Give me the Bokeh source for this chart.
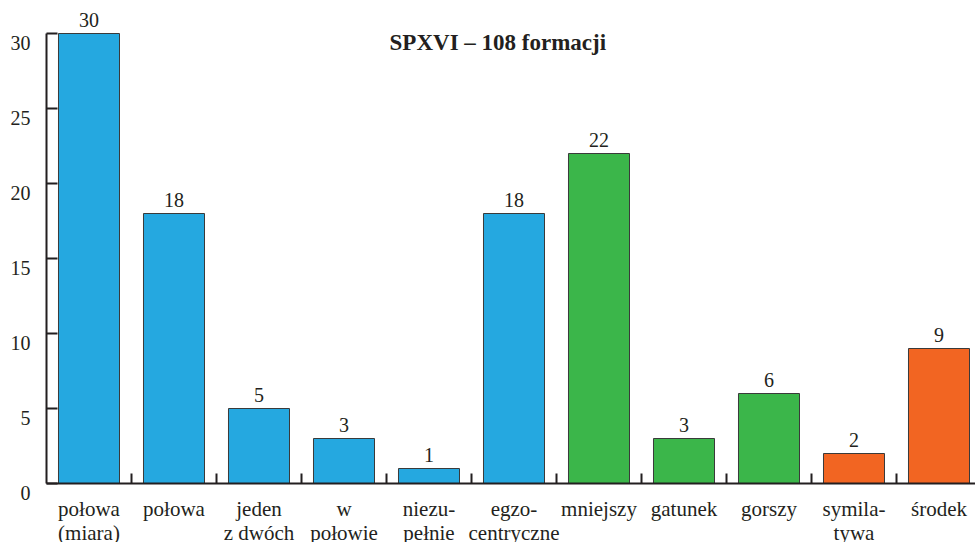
from bokeh.plotting import figure
from bokeh.models import (ColumnDataSource, Range1d, FixedTicker, Label,
                          LinearAxis)
from bokeh.core.properties import value
from bokeh.embed import file_html
from bokeh.resources import INLINE

# ---- data ----
title_text = "SPXVI – 108 formacji"
categories = ["połowa\n(miara)", "połowa", "jeden\nz dwóch", "w\npołowie",
              "niezu-\npełnie", "egzo-\ncentryczne", "mniejszy", "gatunek",
              "gorszy", "symila-\ntywa", "środek"]
values = [30, 18, 5, 3, 1, 18, 22, 3, 6, 2, 9]
groups = ["a", "a", "a", "a", "a", "a", "b", "b", "b", "c", "c"]
group_colors = {"a": "#25A8E0", "b": "#3BB64A", "c": "#F26522"}
y_ticks = [0, 5, 10, 15, 20, 25, 30]

FONT = "'Liberation Serif', serif"
DARK = "#231F20"

W, H = 975, 542
LEFT, BOTTOM = 46, 59          # pixels reserved for the tick labels
PX_X, PX_Y = 85, 15            # pixels per category / per unit

n = len(categories)
xs = [i + 0.5 for i in range(n)]
lines = [c.split("\n") + [""] for c in categories]
src = ColumnDataSource(dict(
    x=xs, top=values, zero=[0] * n, color=[group_colors[g] for g in groups],
    label=[str(v) for v in values],
    line1=[l[0] for l in lines], line2=[l[1] for l in lines],
))
ysrc = ColumnDataSource(dict(y=y_ticks, x=[0] * len(y_ticks),
                             label=[str(t) for t in y_ticks]))

x_end = (W - LEFT) / PX_X
p = figure(width=W, height=H, output_backend="svg", toolbar_location=None,
           x_axis_location=None, y_axis_location=None, min_border=0,
           x_range=Range1d(-LEFT / PX_X, x_end),
           y_range=Range1d(-BOTTOM / PX_Y, (H - BOTTOM) / PX_Y))
p.outline_line_color = None
p.grid.visible = False
p.background_fill_color = "white"
p.border_fill_color = "white"

p.vbar(x="x", top="top", bottom=0, width=0.718, source=src,
       fill_color="color", line_color="#3a3a3a", line_width=1)

# value labels above bars
p.text(x="x", y="top", text="label", source=src, text_align="center",
       text_baseline="middle", y_offset=-14, text_font=value(FONT),
       text_font_size="20px", text_color=DARK)

# category labels under the axis (two lines)
for col, off in (("line1", 13), ("line2", 37)):
    p.text(x="x", y="zero", text=col, source=src, text_align="center",
           text_baseline="top", y_offset=off, text_font=value(FONT),
           text_font_size="21px", text_color=DARK)

# y tick labels, slightly below each tick as in the original
p.text(x="x", y="y", text="label", source=ysrc, text_align="right",
       text_baseline="middle", x_offset=-16, y_offset=9,
       text_font=value(FONT), text_font_size="20px", text_color=DARK)

p.add_layout(Label(x=5.31, y=29.4, text=title_text, text_align="center",
                   text_baseline="middle", text_font=FONT,
                   text_font_size="23px", text_font_style="bold",
                   text_color=DARK))

# x axis (category boundaries as inward ticks)
xa = LinearAxis(fixed_location=0, bounds=(0, x_end),
                ticker=FixedTicker(ticks=xs, minor_ticks=list(range(1, n))),
                major_label_overrides={x: "" for x in xs},
                major_tick_line_color=None, major_tick_in=0, major_tick_out=0,
                minor_tick_in=10, minor_tick_out=0, minor_tick_line_width=2,
                minor_tick_line_color=DARK, axis_line_width=2,
                axis_line_color=DARK)
p.add_layout(xa, "below")

# y axis
ya = LinearAxis(fixed_location=0, bounds=(0, 30),
                ticker=FixedTicker(ticks=y_ticks, minor_ticks=[]),
                major_label_overrides={t: "" for t in y_ticks},
                major_tick_in=11, major_tick_out=0, major_tick_line_width=2,
                major_tick_line_color=DARK, minor_tick_line_color=None,
                axis_line_width=2, axis_line_color=DARK)
p.add_layout(ya, "left")

open("out.html", "w").write(file_html(p, INLINE))
